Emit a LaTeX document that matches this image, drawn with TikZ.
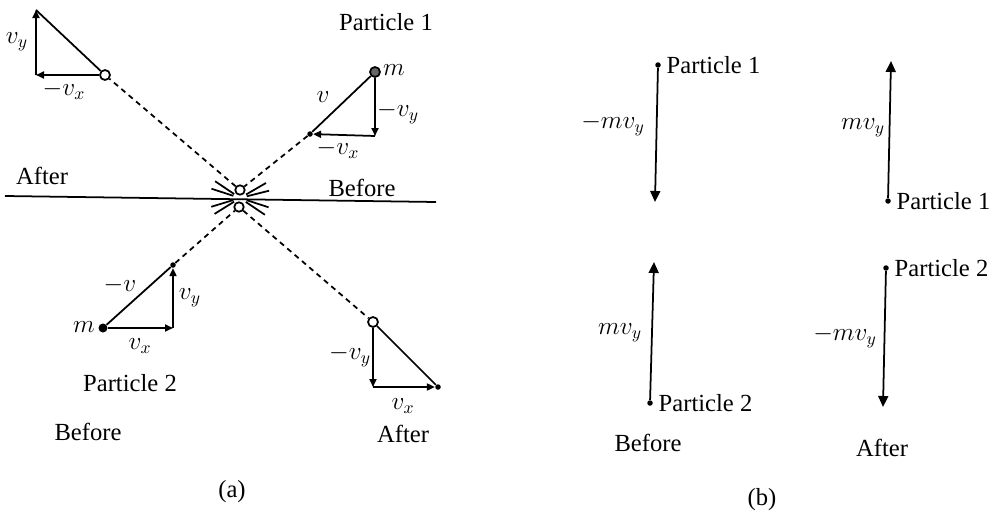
\documentclass[tikz,border=0pt]{standalone}
\usepackage{fontspec}
\setmainfont{Liberation Serif}
\usepackage{tikz}
\usetikzlibrary{arrows.meta, positioning, calc}
\tikzset{
  pline/.style={line width=1pt, color=black},
  vec/.style={-{Triangle[length=1.6mm, width=1.4mm]}, line width=1pt},
  bigvec/.style={-{Triangle[length=2.2mm, width=2mm]}, line width=1pt},
  track/.style={dashed, dash pattern=on 3pt off 2.5pt, line width=1pt},
  opendot/.style={circle, draw, fill=white, line width=1pt, inner sep=0pt, minimum size=2mm},
  fulldot/.style={circle, fill, inner sep=0pt, minimum size=1.8mm},
  tipdot/.style={circle, fill, inner sep=0pt, minimum size=1.1mm},
  corner/.style={inner sep=0pt, minimum size=0pt},
  lbl/.style={font=\fontsize{14}{16}\selectfont, inner sep=1pt}
}

\begin{document}
\begin{tikzpicture}[x=0.2mm, y=-0.2mm]
  \useasboundingbox (0,0) rectangle (1004,513);
  % ---------- (a) collision seen from above ----------
  % dividing line
  \coordinate (hl) at (5,196);
  \coordinate (hr) at (436,202);
  \draw[pline] (hl) -- (hr);
  \node[lbl] (aftA) at (42,176) {After};
  \node[lbl] (befA) at (362,188) {Before};
  % collision point
  \coordinate (hit) at (240,198);
  \node[opendot, minimum size=1.9mm] (hit1) at (240,190) {};
  \node[opendot, minimum size=1.9mm] (hit2) at (239,207) {};
  \foreach \a in {18,34,148,163,198,214,330,346}
    \draw[pline] ($(hit)+(\a:7)$) -- ($(hit)+(\a:30)$);
  % particle 1 before
  \node[opendot, fill=black!60] (m1) at (375,72) {};
  \node[tipdot] (p1ll) at (310,134) {};
  \coordinate (p1c) at (375,136);
  \draw[pline] (p1ll) -- (m1);
  \draw[vec] (m1) -- (p1c);
  \draw[vec] (p1c) -- (p1ll);
  \node[lbl] (p1lab) at (386,22) {Particle 1};
  \node[lbl, right] (m1lab) at (381,70) {$m$};
  \node[lbl] (v1lab) at (323,97) {$v$};
  \node[lbl] (vy1lab) at (398,113) {$-v_y$};
  \node[lbl] (vx1lab) at (338,149) {$-v_x$};
  % particle 1 after
  \node[opendot] (p1a) at (105,75) {};
  \coordinate (p1ac) at (36,75);
  \coordinate (p1at) at (36,10);
  \draw[pline] (p1a) -- (p1at);
  \draw[vec] (p1ac) -- (p1at);
  \draw[vec] (p1a) -- (p1ac);
  \node[lbl] (vy1alab) at (17,42) {$v_y$};
  \node[lbl] (vx1alab) at (64,90) {$-v_x$};
  % particle 2 before
  \node[fulldot] (m2) at (103,328) {};
  \node[tipdot] (p2t) at (173,265) {};
  \coordinate (p2c) at (173,328);
  \draw[pline] (m2) -- (p2t);
  \draw[vec] (m2) -- (p2c);
  \draw[vec] (p2c) -- (p2t);
  \node[lbl, left] (m2lab) at (97,327) {$m$};
  \node[lbl] (v2lab) at (120,285) {$-v$};
  \node[lbl] (vy2lab) at (190,298) {$v_y$};
  \node[lbl] (vx2lab) at (140,346) {$v_x$};
  \node[lbl] (p2lab) at (130,383) {Particle 2};
  \node[lbl] (befA2) at (88,432) {Before};
  % particle 2 after
  \node[opendot] (p2a) at (373,322) {};
  \coordinate (p2ac) at (373,387);
  \node[tipdot] (p2ar) at (438,387) {};
  \draw[pline] (p2a) -- (p2ar);
  \draw[vec] (p2a) -- (p2ac);
  \draw[vec] (p2ac) -- (p2ar);
  \node[lbl] (vy2alab) at (350,356) {$-v_y$};
  \node[lbl] (vx2alab) at (403,406) {$v_x$};
  \node[lbl] (aftA2) at (403,434) {After};
  % paths through the collision
  \draw[track] (p1ll) -- (hit1);
  \draw[track] (hit1) -- (p1a);
  \draw[track] (p2t) -- (hit2);
  \draw[track] (hit2) -- (p2a);
  \node[lbl] (capa) at (232,492) {(a)};
  % ---------- (b) y-momenta ----------
  % before
  \node[tipdot] (b1) at (658,65) {};
  \coordinate (b1e) at (655,202);
  \draw[bigvec] (b1) -- (b1e);
  \node[lbl, right=2pt of b1] (b1lab) {Particle 1};
  \node[lbl] (b1mv) at (613,125) {$-mv_y$};
  \node[tipdot] (b2) at (650,403) {};
  \coordinate (b2e) at (654,262);
  \draw[bigvec] (b2) -- (b2e);
  \node[lbl, right=2pt of b2] (b2lab) {Particle 2};
  \node[lbl] (b2mv) at (620,333) {$mv_y$};
  \node[lbl] (befB) at (648,443) {Before};
  % after
  \node[tipdot] (a1) at (888,201) {};
  \coordinate (a1e) at (891,61);
  \draw[bigvec] (a1) -- (a1e);
  \node[lbl, right=2pt of a1] (a1lab) {Particle 1};
  \node[lbl] (a1mv) at (863,128) {$mv_y$};
  \node[tipdot] (a2) at (886,268) {};
  \coordinate (a2e) at (883,407);
  \draw[bigvec] (a2) -- (a2e);
  \node[lbl, right=2pt of a2] (a2lab) {Particle 2};
  \node[lbl] (a2mv) at (845,337) {$-mv_y$};
  \node[lbl] (aftB) at (882,448) {After};
  \node[lbl] (capb) at (762,500) {(b)};
\end{tikzpicture}
\end{document}
